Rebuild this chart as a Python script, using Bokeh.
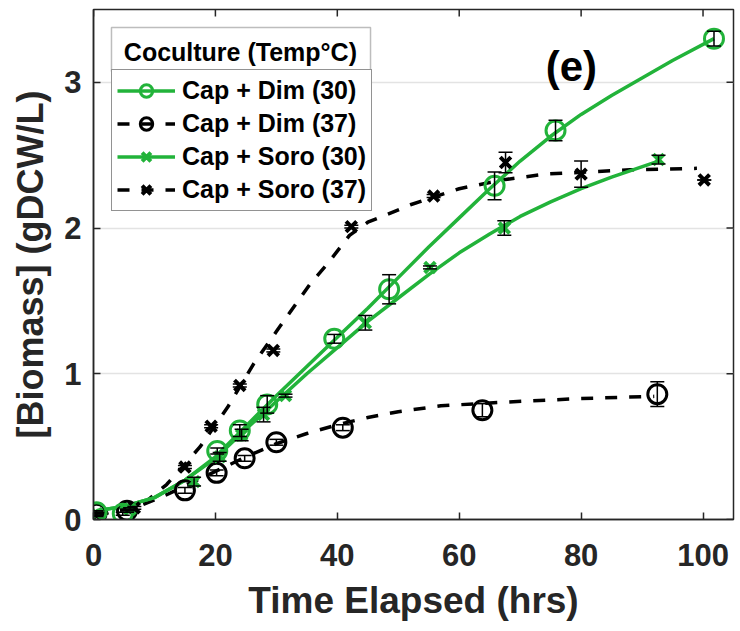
import math
from bokeh.plotting import figure
from bokeh.models import (Range1d, FixedTicker, Legend, LegendItem, Whisker,
                          ColumnDataSource, Label, BoxAnnotation, TeeHead)
from bokeh.embed import file_html
from bokeh.resources import INLINE

dim30_t = [0.5, 4.8, 20.3, 24.0, 28.5, 39.5, 48.5, 65.8, 75.8, 101.8]
dim30_y = [0.05, 0.04, 0.47, 0.61, 0.79, 1.24, 1.58, 2.29, 2.67, 3.30]
dim30_e = [0.01, 0.01, 0.02, 0.04, 0.06, 0.03, 0.10, 0.095, 0.07, 0.05]

soro30_t = [0.5, 6.0, 16.5, 20.7, 24.3, 27.9, 31.5, 44.6, 55.2, 67.4, 92.7]
soro30_y = [0.04, 0.07, 0.26, 0.43, 0.58, 0.72, 0.85, 1.35, 1.73, 2.00, 2.47]
soro30_e = [0.01, 0.01, 0.03, 0.03, 0.04, 0.05, 0.01, 0.05, 0.01, 0.05, 0.03]

dim37_t = [0.5, 5.5, 15.0, 20.2, 24.8, 30.0, 40.9, 63.8, 92.5]
dim37_y = [0.04, 0.06, 0.20, 0.32, 0.42, 0.53, 0.63, 0.75, 0.86]
dim37_e = [0.01, 0.01, 0.02, 0.02, 0.02, 0.02, 0.02, 0.045, 0.085]

soro37_t = [0.5, 6.7, 15.0, 19.3, 24.0, 29.5, 42.3, 55.8, 67.6, 80.0, 100.2]
soro37_y = [0.03, 0.08, 0.36, 0.64, 0.92, 1.16, 2.01, 2.22, 2.45, 2.37, 2.33]
soro37_e = [0.01, 0.01, 0.01, 0.01, 0.01, 0.01, 0.01, 0.01, 0.07, 0.09, 0.0]

# ---- fitted curves ----
dim30_fit_t = [0.5, 5, 10, 15, 20, 25, 30, 35, 40, 45, 50, 55, 60, 65, 70, 75, 80, 85, 90, 95, 101.8]
dim30_fit_y = [0.06, 0.09, 0.15, 0.27, 0.43, 0.64, 0.85, 1.05, 1.25, 1.45, 1.66, 1.87, 2.07, 2.27, 2.46,
               2.63, 2.78, 2.91, 3.03, 3.15, 3.30]

soro30_fit_t = [0.5, 5, 10, 15, 20, 25, 30, 35, 40, 45, 50, 55, 60, 65, 70, 75, 80, 85, 92.7]
soro30_fit_y = [0.06, 0.09, 0.15, 0.27, 0.42, 0.62, 0.81, 1.0, 1.18, 1.36, 1.52, 1.68, 1.83, 1.96, 2.08,
                2.18, 2.27, 2.35, 2.46]

dim37_fit_t = [0.5, 4, 8, 12, 16, 20, 25, 30, 35, 40, 45, 50, 57, 65, 72, 80, 92]
dim37_fit_y = [0.03, 0.06, 0.10, 0.17, 0.25, 0.33, 0.43, 0.52, 0.59, 0.65, 0.70, 0.74, 0.78, 0.80, 0.815,
               0.83, 0.845]

soro37_fit_t = [0.5, 5, 8.5, 12, 14.8, 17.5, 22, 26.3, 30, 35.6, 38.3, 42, 45, 48, 52, 60, 67, 74, 88, 99]
soro37_fit_y = [0.03, 0.07, 0.12, 0.24, 0.37, 0.50, 0.77, 1.07, 1.29, 1.62, 1.75, 1.95, 2.04, 2.09, 2.16,
                2.27, 2.33, 2.37, 2.40, 2.41]

x_ticks = [0, 20, 40, 60, 80, 100]
y_ticks = [0, 1, 2, 3]
legend_labels = ["Cap + Dim (30)", "Cap + Dim (37)", "Cap + Soro (30)", "Cap + Soro (37)"]
legend_title = "Coculture (Temp°C)"
panel_tag = "(e)"

X_MAX, Y_MAX = 105, 3.5
GREEN = "#22B33A"
BLACK = "#000000"
AXC = "#262626"
FONT = "Liberation Sans"

p = figure(width=740, height=631, output_backend="svg", toolbar_location=None,
           x_range=Range1d(0, X_MAX), y_range=Range1d(0, Y_MAX),
           min_border_left=93, min_border_right=7, min_border_top=9, min_border_bottom=112,
           x_axis_label="Time Elapsed (hrs)", y_axis_label="[Biomass] (gDCW/L)")
p.background_fill_color = "white"
p.border_fill_color = "white"
p.outline_line_color = AXC
p.outline_line_width = 1.5

p.xgrid.visible = False
p.ygrid.ticker = FixedTicker(ticks=y_ticks)
p.ygrid.grid_line_color = "#e3e3e3"
p.ygrid.grid_line_width = 1.5

for ax, ticks in ((p.xaxis[0], x_ticks), (p.yaxis[0], y_ticks)):
    ax.ticker = FixedTicker(ticks=ticks)
    ax.major_tick_in = 7
    ax.major_tick_out = 0
    ax.minor_tick_line_color = None
    ax.axis_line_color = AXC
    ax.axis_line_width = 1.5
    ax.major_tick_line_color = AXC
    ax.major_tick_line_width = 1.5
    ax.major_label_text_font = FONT
    ax.major_label_text_font_style = "bold"
    ax.major_label_text_font_size = "31px"
    ax.major_label_text_color = AXC
    ax.axis_label_text_font = FONT
    ax.axis_label_text_font_style = "bold"
    ax.axis_label_text_color = AXC
p.xaxis[0].axis_label_text_font_size = "37px"
p.yaxis[0].axis_label_text_font_size = "36px"
p.xaxis[0].major_label_standoff = 24
p.xaxis[0].axis_label_standoff = 11
p.yaxis[0].major_label_standoff = 12
p.yaxis[0].axis_label_standoff = 10

# inward ticks on the top and right edges (half of each dash is clipped by the frame)
p.scatter(x_ticks, [Y_MAX] * len(x_ticks), marker="dash", size=14, angle=math.pi / 2,
          line_color=AXC, line_width=1.5)
p.scatter([X_MAX] * len(y_ticks), y_ticks, marker="dash", size=14,
          line_color=AXC, line_width=1.5)

# dashed black fits (37 C)
l_dim37 = p.line(dim37_fit_t, dim37_fit_y, line_color=BLACK, line_width=3.5, line_dash="12 12")
l_soro37 = p.line(soro37_fit_t, soro37_fit_y, line_color=BLACK, line_width=3.5, line_dash="12 12")
# solid green fits (30 C)
l_dim30 = p.line(dim30_fit_t, dim30_fit_y, line_color=GREEN, line_width=3.5)
l_soro30 = p.line(soro30_fit_t, soro30_fit_y, line_color=GREEN, line_width=3.5)

m_dim37 = p.scatter(dim37_t, dim37_y, marker="circle", size=19, fill_color=None,
                    line_color=BLACK, line_width=3)
m_soro37 = p.scatter(soro37_t, soro37_y, marker="x", size=15, line_color=BLACK, line_width=4)
m_dim30 = p.scatter(dim30_t, dim30_y, marker="circle", size=19, fill_color=None,
                    line_color=GREEN, line_width=3)
m_soro30 = p.scatter(soro30_t, soro30_y, marker="x", size=15, line_color=GREEN, line_width=4)

for t, y, e in ((dim37_t, dim37_y, dim37_e), (soro37_t, soro37_y, soro37_e),
                (dim30_t, dim30_y, dim30_e), (soro30_t, soro30_y, soro30_e)):
    src = ColumnDataSource(dict(x=t, lo=[a - b for a, b in zip(y, e)], hi=[a + b for a, b in zip(y, e)]))
    w = Whisker(base="x", lower="lo", upper="hi", source=src, dimension="height",
                line_color=BLACK, line_width=1.5, level="glyph",
                upper_head=TeeHead(size=14, line_color=BLACK, line_width=1.5),
                lower_head=TeeHead(size=14, line_color=BLACK, line_width=1.5))
    p.add_layout(w)

# legend title box (separate, so the line under the title is drawn)
p.add_layout(BoxAnnotation(left=2.95, right=45.45, top=3.377, bottom=3.075,
                           fill_color="white", fill_alpha=1.0, line_color=AXC, line_width=1.5))
p.add_layout(Label(x=24.1, y=3.205, text=legend_title, text_align="center", text_baseline="middle",
                   text_font=FONT, text_font_style="bold", text_font_size="25px", text_color=BLACK))

legend = Legend(items=[
    LegendItem(label=legend_labels[0], renderers=[l_dim30, m_dim30]),
    LegendItem(label=legend_labels[1], renderers=[l_dim37, m_dim37]),
    LegendItem(label=legend_labels[2], renderers=[l_soro30, m_soro30]),
    LegendItem(label=legend_labels[3], renderers=[l_soro37, m_soro37]),
], location=(18, 308), padding=5, spacing=2,
    glyph_width=58, glyph_height=31, label_height=31, label_standoff=7,
    label_text_font=FONT, label_text_font_style="bold", label_text_font_size="25px",
    label_text_color=BLACK,
    border_line_color=AXC, border_line_width=1.5, background_fill_color="white",
    background_fill_alpha=1.0)
p.add_layout(legend)

p.add_layout(Label(x=78.4, y=3.11, text=panel_tag, text_align="center", text_baseline="middle",
                   text_font=FONT, text_font_style="bold", text_font_size="42px", text_color=BLACK))

open("out.html", "w").write(file_html(p, INLINE))
